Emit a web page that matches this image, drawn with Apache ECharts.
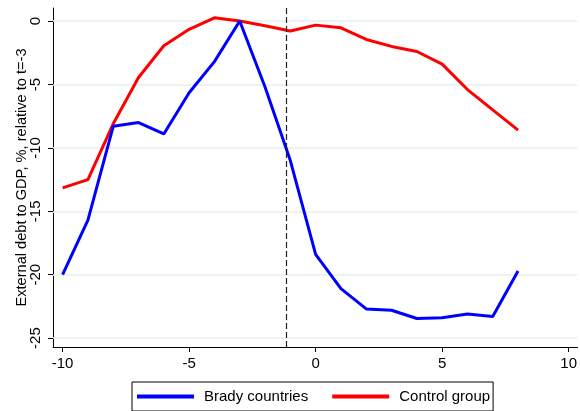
<!DOCTYPE html>
<html>
<head>
<meta charset="utf-8">
<script src="https://cdn.jsdelivr.net/npm/echarts@6/dist/echarts.min.js"></script>
<style>
html,body{margin:0;padding:0;background:#fff;}
#chart{width:580px;height:411px;}
</style>
</head>
<body>
<div id="chart"></div>
<script>
const periods = [-10,-9,-8,-7,-6,-5,-4,-3,-2,-1,0,1,2,3,4,5,6,7,8];
const bradyCountries = [-20.0,-15.7,-8.3,-8.0,-8.9,-5.65,-3.2,0,-5.2,-11.0,-18.4,-21.1,-22.7,-22.8,-23.45,-23.4,-23.1,-23.3,-19.7];
const controlGroup = [-13.15,-12.5,-8.1,-4.45,-1.95,-0.65,0.26,0,-0.37,-0.78,-0.32,-0.53,-1.45,-2.0,-2.4,-3.4,-5.4,-7.0,-8.6];
const xTicks = [-10,-5,0,5,10];
const yTicks = [0,-5,-10,-15,-20,-25];
const eventLine = -1.15;
const seriesNames = ['Brady countries','Control group'];
const yTitle = 'External debt to GDP, %, relative to t=-3';

const font = 'Liberation Sans, Arial, Helvetica, sans-serif';
const chart = echarts.init(document.getElementById('chart'), null, {renderer:'canvas'});
chart.setOption({
  animation:false,
  backgroundColor:'#ffffff',
  grid:{left:53,right:0,top:8,bottom:64,containLabel:false},
  legend:{
    data:seriesNames,
    bottom:0,
    left:132,
    icon:'rect',
    itemWidth:57,
    itemHeight:4,
    itemGap:24,
    padding:[7,3,7,5],
    borderColor:'#000',
    borderWidth:1,
    borderRadius:0,
    textStyle:{fontFamily:font,fontSize:15,color:'#000',padding:[0,0,0,5]}
  },
  xAxis:{
    type:'value',
    min:-10.38,max:10.35,
    axisLine:{show:true,onZero:false,lineStyle:{color:'#000',width:1}},
    axisTick:{show:true,length:5,customValues:xTicks,lineStyle:{color:'#000'}},
    axisLabel:{customValues:xTicks,fontFamily:font,fontSize:15,color:'#000',margin:9},
    splitLine:{show:false}
  },
  yAxis:{
    type:'value',
    min:-25.7,max:1.03,
    name:yTitle,
    nameLocation:'middle',
    nameGap:24,
    nameMoveOverlap:false,
    nameTextStyle:{fontFamily:font,fontSize:14.6,color:'#000'},
    axisLine:{show:true,onZero:false,lineStyle:{color:'#000',width:1}},
    axisTick:{show:true,length:5,customValues:yTicks,lineStyle:{color:'#000'}},
    axisLabel:{customValues:yTicks,rotate:90,fontFamily:font,fontSize:15,color:'#000',margin:10},
    splitLine:{show:false}
  },
  series:[
    {
      name:seriesNames[0],type:'line',
      data:periods.map((p,i)=>[p,bradyCountries[i]]),
      symbol:'none',
      lineStyle:{color:'#0000ff',width:3},
      itemStyle:{color:'#0000ff'},
      z:3,
      markLine:{
        silent:true,symbol:'none',animation:false,
        label:{show:false},
        lineStyle:{color:'#e6eff1',type:'solid',width:1.5},
        data:yTicks.map(v=>({yAxis:v})),
        z:1
      }
    },
    {
      name:seriesNames[1],type:'line',
      data:periods.map((p,i)=>[p,controlGroup[i]]),
      symbol:'none',
      lineStyle:{color:'#ff0000',width:3},
      itemStyle:{color:'#ff0000'},
      z:2,
      markLine:{
        silent:true,symbol:'none',animation:false,
        label:{show:false},
        lineStyle:{color:'#222',type:[6,3],width:1.2},
        data:[{xAxis:eventLine}]
      }
    }
  ]
});
</script>
</body>
</html>
